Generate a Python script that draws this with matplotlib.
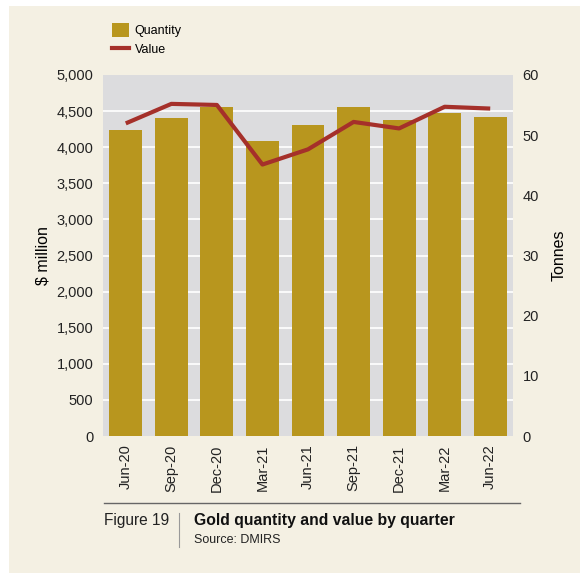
import matplotlib.pyplot as plt
from matplotlib.lines import Line2D
from matplotlib.patches import Patch, Rectangle

# Data
quarters = ['Jun-20', 'Sep-20', 'Dec-20', 'Mar-21', 'Jun-21',
            'Sep-21', 'Dec-21', 'Mar-22', 'Jun-22']
quantity_t = [50.9, 52.9, 54.7, 49.0, 51.7, 54.7, 52.5, 53.7, 53.0]
value_m = [4330, 4600, 4585, 3760, 3970, 4350, 4260, 4560, 4535]
value_ticks = list(range(0, 5001, 500))
tonne_ticks = list(range(0, 61, 10))

gold = '#B8961E'
red = '#A5302A'
cream = '#F4F0E3'
grey = '#DCDCDE'

plt.rcParams['font.family'] = ['Liberation Sans Narrow', 'Liberation Sans', 'DejaVu Sans']

fig = plt.figure(figsize=(5.8, 5.73), dpi=100)
fig.patch.set_facecolor('white')
fig.add_artist(Rectangle((9 / 580, 0), 1, 1 - 6 / 573, transform=fig.transFigure,
                         facecolor=cream, edgecolor='none', zorder=-10))

ax = fig.add_axes([103 / 580, 1 - 436 / 573, 410 / 580, 361 / 573])
axq = ax.twinx()
ax.set_zorder(axq.get_zorder() + 1)
ax.patch.set_visible(False)
axq.patch.set_visible(True)
axq.set_facecolor(grey)

x = range(len(quarters))
# white gridlines at the $ million ticks, kept behind the bars
for v in value_ticks[1:-1]:
    axq.axhline(v * 60 / 5000, color='white', lw=1.2, zorder=0)
axq.bar(x, quantity_t, width=0.72, color=gold, zorder=2)
ax.plot(x, value_m, color=red, lw=3, solid_capstyle='butt')

ax.set_xlim(-0.5, len(quarters) - 0.5)
ax.set_ylim(0, 5000)
axq.set_ylim(0, 60)
ax.set_yticks(value_ticks)
ax.set_yticklabels([f'{v:,}' for v in value_ticks])
axq.set_yticks(tonne_ticks)
ax.set_xticks(list(x))
ax.set_xticklabels(quarters, rotation=90)

for a in (ax, axq):
    for s in a.spines.values():
        s.set_visible(False)
    a.tick_params(length=0, labelsize=10.5, colors='#222222', pad=7)
ax.tick_params(axis='x', pad=6)

ax.set_ylabel('$ million', fontsize=11.5, labelpad=4)
axq.set_ylabel('Tonnes', fontsize=11.5, labelpad=9)

handles = [Patch(facecolor=gold, edgecolor='none'),
           Line2D([0], [0], color=red, lw=3)]
fig.legend(handles, ['Quantity', 'Value'], loc='upper left',
           bbox_to_anchor=(106 / 580, 1 - 17 / 573), frameon=False,
           fontsize=9, handlelength=1.3, handleheight=1.3,
           handletextpad=0.5, labelspacing=0.4, borderpad=0)

# footer
fig.add_artist(Line2D([104 / 580, 520 / 580], [1 - 503 / 573] * 2,
                      transform=fig.transFigure, color='#666666', lw=1))
fig.add_artist(Line2D([179 / 580] * 2, [1 - 513 / 573, 1 - 547 / 573],
                      transform=fig.transFigure, color='#999999', lw=0.8))
fig.text(104 / 580, 1 - 521 / 573, 'Figure 19', fontsize=11.2, va='center',
         color='#222222')
fig.text(194 / 580, 1 - 521 / 573, 'Gold quantity and value by quarter',
         fontsize=11.3, fontweight='bold', va='center', color='#111111')
fig.text(194 / 580, 1 - 540 / 573, 'Source: DMIRS', fontsize=9,
         va='center', color='#222222')

fig.savefig('out.png', dpi=100, facecolor=fig.get_facecolor())
